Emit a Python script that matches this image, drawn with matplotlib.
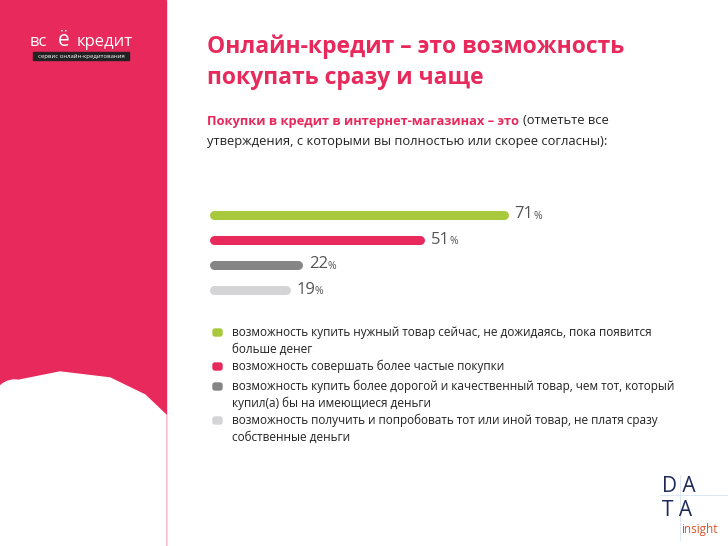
import matplotlib
matplotlib.use("Agg")
import matplotlib.pyplot as plt
from matplotlib.patches import Rectangle, Ellipse, Polygon, FancyBboxPatch

categories = [
    "возможность купить нужный товар сейчас, не дожидаясь, пока появится\nбольше денег",
    "возможность совершать более частые покупки",
    "возможность купить более дорогой и качественный товар, чем тот, который\nкупил(а) бы на имеющиеся деньги",
    "возможность получить и попробовать тот или иной товар, не платя сразу\nсобственные деньги",
]
values = [71, 51, 22, 19]
colors = ["#a8c93c", "#e8295c", "#858585", "#d4d4d6"]
PINK = "#e8295c"
FONT = "Open Sans"

W, H = 728, 546
fig = plt.figure(figsize=(W/100, H/100), dpi=100)
bg = fig.add_axes([0, 0, 1, 1])
bg.set_xlim(0, W); bg.set_ylim(H, 0); bg.axis("off")

# left pink panel with elephant silhouette
bg.add_patch(Rectangle((0, 0), 166, H, color=PINK, zorder=0))
bg.add_patch(Polygon([(0, 400), (20, 380), (60, 372), (110, 378), (145, 395), (166, 415),
                      (166, 546), (0, 546)], closed=True, color="white", zorder=1))
bg.add_patch(Ellipse((15, 410), 50, 60, color="white", zorder=1))

# logo
bg.text(30, 42, "вс", color="white", fontsize=12, family=FONT, va="center")
bg.text(58, 40, "ё", color="white", fontsize=15, family=FONT, va="center")
bg.text(77, 42, "кредит", color="white", fontsize=12, family=FONT, va="center")
bg.add_patch(Rectangle((33, 52), 96, 8, color="#222222", zorder=2))
bg.text(81, 56, "сервис онлайн-кредитования", color="white", fontsize=4.3, family=FONT,
        ha="center", va="center", zorder=3)

# title
bg.text(207, 47, "Онлайн-кредит – это возможность", color=PINK, fontsize=16.5,
        weight="bold", family=FONT, va="center")
bg.text(207, 78, "покупать сразу и чаще", color=PINK, fontsize=16.5,
        weight="bold", family=FONT, va="center")
t1 = bg.text(207, 121, "Покупки в кредит в интернет-магазинах – это", color=PINK, fontsize=9.3,
             weight="bold", family=FONT, va="center")
fig.canvas.draw()
bb = t1.get_window_extent()
x_end = bg.transData.inverted().transform((bb.x1, 0))[0]
bg.text(x_end + 4, 121, "(отметьте все", color="#222222", fontsize=9.3, family=FONT, va="center")
bg.text(207, 141, "утверждения, с которыми вы полностью или скорее согласны):", color="#222222",
        fontsize=9.3, family=FONT, va="center")

# bars
px = 4.2
ax = fig.add_axes([210/W, (H-302)/H, 100*px/W, 100/H])
ax.set_xlim(0, 100); ax.set_ylim(3.5, -0.5); ax.axis("off")
cap = 1.0  # half line width in % units
for i, (v, c) in enumerate(zip(values, colors)):
    ax.plot([cap, v - cap], [i, i], color=c, lw=6.5, solid_capstyle="round")
    ax.text(v + 1.5, i, f"{v}", fontsize=12, family=FONT, color="#555555", va="center")
fig.canvas.draw()
ren = fig.canvas.get_renderer()
for t in list(ax.texts):
    b = t.get_window_extent(ren)
    xd = ax.transData.inverted().transform((b.x1, 0))[0]
    ax.text(xd, t.get_position()[1] + 0.07, "%", fontsize=7.5, family=FONT, color="#555555", va="center")

# legend
ys = [333, 367, 387, 421]
for y, c, lab in zip(ys, colors, categories):
    bg.add_patch(FancyBboxPatch((213, y - 4), 9, 7, boxstyle="round,pad=0,rounding_size=2", color=c))
    bg.text(232, y - 7, lab, fontsize=8.5, family=FONT, color="#222222", va="top", linespacing=1.35)

# DATA insight logo
bg.text(662, 486, "D A", fontsize=15, family=FONT, color="#1f2a5a", va="center")
bg.text(662, 510, "T A", fontsize=15, family=FONT, color="#1f2a5a", va="center")
bg.text(681, 530, "insight", fontsize=8.5, family=FONT, color="#d9532c", va="center")
bg.plot([660, 728], [495, 495], color="#d8e4ee", lw=0.6)
bg.plot([680, 680], [475, 540], color="#d8e4ee", lw=0.6)

fig.savefig("out.png", dpi=100)
